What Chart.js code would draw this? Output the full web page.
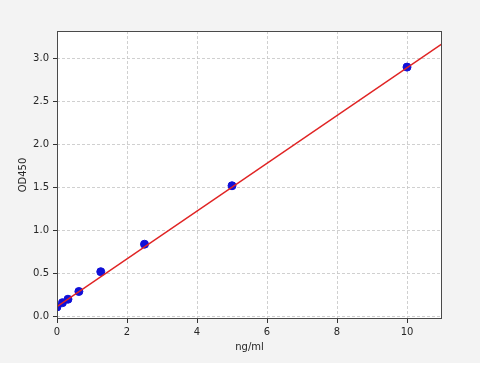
<!DOCTYPE html>
<html>
<head>
<meta charset="utf-8">
<script src="https://cdn.jsdelivr.net/npm/chart.js@4/dist/chart.umd.min.js"></script>
<style>
  html, body { margin: 0; padding: 0; background: #ffffff; }
  #wrap { width: 488px; height: 373px; }
</style>
</head>
<body>
<div id="wrap"><canvas id="c" width="488" height="373"></canvas></div>
<script>
// Standard concentrations (ng/ml) and measured OD450
const concentrations = [0, 0.156, 0.313, 0.625, 1.25, 2.5, 5, 10];
const odValues = [0.11, 0.16, 0.20, 0.29, 0.52, 0.84, 1.52, 2.90];
// Fitted curve, read at its ends
const fitX = [0, 11];
const fitY = [0.115, 3.17];
// Tick labels
const xTicks = [0, 2, 4, 6, 8, 10];
const yTicks = [0.0, 0.5, 1.0, 1.5, 2.0, 2.5, 3.0];

const pointData = concentrations.map((x, i) => ({x: x, y: odValues[i]}));
const fitData = fitX.map((x, i) => ({x: x, y: fitY[i]}));

const bgPlugin = {
  id: 'bg',
  beforeDraw(chart) {
    const ctx = chart.ctx;
    ctx.save();
    ctx.fillStyle = '#ffffff';
    ctx.fillRect(0, 0, chart.width, chart.height);
    ctx.fillStyle = '#f3f3f3';
    ctx.fillRect(0, 0, 480, 363);
    const a = chart.chartArea;
    ctx.fillStyle = '#ffffff';
    ctx.fillRect(a.left, a.top, a.right - a.left, a.bottom - a.top);
    ctx.restore();
  },
  afterDraw(chart) {
    const ctx = chart.ctx;
    const a = chart.chartArea;
    ctx.save();
    ctx.strokeStyle = '#4a4a4a';
    ctx.lineWidth = 1;
    ctx.strokeRect(Math.round(a.left) + 0.5, Math.round(a.top) + 0.5,
                   Math.round(a.right - a.left) - 1, Math.round(a.bottom - a.top) - 1);
    ctx.restore();
  }
};

const font = {family: 'DejaVu Sans', size: 10};

new Chart(document.getElementById('c'), {
  type: 'scatter',
  data: {
    datasets: [
      {
        type: 'line',
        data: fitData,
        borderColor: '#e02424',
        borderWidth: 1.5,
        pointRadius: 0,
        fill: false,
        tension: 0,
        order: 0
      },
      {
        data: pointData,
        backgroundColor: '#1010d8',
        borderColor: '#1010d8',
        pointRadius: 4,
        pointHoverRadius: 4,
        order: 1
      }
    ]
  },
  plugins: [bgPlugin],
  options: {
    responsive: false,
    animation: false,
    events: [],
    layout: { padding: { left: 0, top: 31, right: 46, bottom: 0 } },
    plugins: { legend: { display: false }, tooltip: { enabled: false } },
    scales: {
      x: {
        type: 'linear',
        min: 0,
        max: 11,
        afterFit(s) { s.height = 54; },
        afterBuildTicks(s) { s.ticks = xTicks.map(v => ({value: v})); },
        ticks: {
          font: font, color: '#262626', padding: 3, maxRotation: 0,
          callback: v => String(v)
        },
        grid: { color: '#c4c4c4', lineWidth: 0.8, tickLength: 4, tickColor: '#333333', tickWidth: 1, tickBorderDash: [] },
        border: { display: false, dash: [3, 2] },
        title: { display: true, text: 'ng/ml', font: font, color: '#262626', padding: { top: 0, bottom: 20 } }
      },
      y: {
        type: 'linear',
        min: -0.03,
        max: 3.32,
        afterFit(s) { s.width = 57; },
        afterBuildTicks(s) { s.ticks = yTicks.map(v => ({value: v})); },
        ticks: {
          font: font, color: '#262626', padding: 4,
          callback: v => Number(v).toFixed(1)
        },
        grid: { color: '#c4c4c4', lineWidth: 0.8, tickLength: 4, tickColor: '#333333', tickWidth: 1, tickBorderDash: [] },
        border: { display: false, dash: [3, 2] },
        title: { display: true, text: 'OD450', font: font, color: '#262626', padding: { top: 17, bottom: 0 } }
      }
    }
  }
});
</script>
</body>
</html>
